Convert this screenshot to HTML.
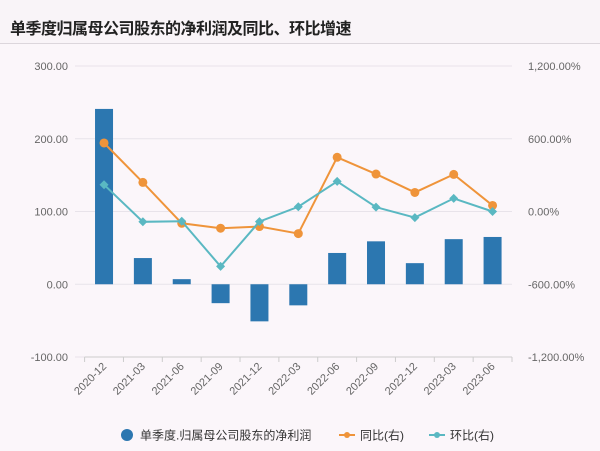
<!DOCTYPE html>
<html><head><meta charset="utf-8"><style>
body{margin:0;background:#fbf6fa;font-family:"Liberation Sans","Noto Sans CJK SC",sans-serif;}
#wrap{position:relative;width:600px;height:451px;overflow:hidden;background:#fbf6fa;}
#hdr{position:absolute;left:0;top:0;width:600px;height:43px;border-bottom:1px solid #dcd6dc;background:#f9f4f8;}
#title{position:absolute;left:10px;top:15px;font-size:16px;font-weight:bold;color:#222;letter-spacing:-0.5px;}
svg text{font-family:"Liberation Sans","Noto Sans CJK SC",sans-serif;}
</style></head><body>
<div id="wrap">
<div id="hdr"><div id="title">单季度归属母公司股东的净利润及同比、环比增速</div></div>
<svg id="chart" width="600" height="451" style="position:absolute;left:0;top:0"></svg>
</div>
<script>
const categories=["2020-12","2021-03","2021-06","2021-09","2021-12","2022-03","2022-06","2022-09","2022-12","2023-03","2023-06"];
const profit=[241,36,7,-26,-51,-29,43,59,29,62,65];
const yoy=[565,240,-97,-138,-124,-182,447,309,157,306,50];
const qoq=[221,-85,-80,-453,-83,39,248,36,-50,108,0];
const leftTicks=[300,200,100,0,-100];
const leftTickLabels=["300.00","200.00","100.00","0.00","-100.00"];
const rightTicks=[1200,600,0,-600,-1200];
const rightTickLabels=["1,200.00%","600.00%","0.00%","-600.00%","-1,200.00%"];
const NS="http://www.w3.org/2000/svg";
const svg=document.getElementById('chart');
const X0=84.6,X1=512,T=66,B=357;
const band=(X1-X0)/categories.length;
const xC=i=>X0+band*(i+0.5);
const yL=v=>T+(300-v)/400*(B-T);
const yR=v=>T+(1200-v)/2400*(B-T);
function mk(tag,at){const e=document.createElementNS(NS,tag);for(const k in at)e.setAttribute(k,at[k]);svg.appendChild(e);return e;}
leftTicks.forEach((v,i)=>{
 const g=mk('line',{x1:75,x2:X1,y1:yL(v),y2:yL(v),stroke:'#e8e3ea','stroke-width':1});
 
 
 const t=mk('text',{x:68,y:yL(v)+4,'text-anchor':'end','font-size':11,fill:'#666'});t.textContent=leftTickLabels[i];
 
 
});
rightTicks.forEach((v,i)=>{
 const t=mk('text',{x:528,y:yR(v)+4,'font-size':11,fill:'#666'});t.textContent=rightTickLabels[i];
 
 
});
const ax=mk('line',{x1:X0,x2:X1,y1:B,y2:B,stroke:'#ccc'});


for(let i=0;i<=categories.length;i++){const tk=mk('line',{x1:X0+band*i,x2:X0+band*i,y1:B,y2:B+5,stroke:'#ccc'});
 
 }
categories.forEach((c,i)=>{
 const x=xC(i)+3,y=B+10;
 const t=mk('text',{x:x,y:y,'text-anchor':'end','font-size':11,fill:'#666',transform:`rotate(-45 ${x} ${y})`});t.textContent=c;
 
 
});
profit.forEach((v,i)=>{
 const y0=yL(0),y1=yL(v);
 const r=mk('rect',{x:xC(i)-9,y:Math.min(y0,y1),width:18,height:Math.abs(y1-y0),fill:'#2c77b0'});
 
 
});
function line(arr,col,name,diamond){
 const p=mk('polyline',{points:arr.map((v,i)=>xC(i)+','+yR(v)).join(' '),fill:'none',stroke:col,'stroke-width':2});
 
 
 arr.forEach((v,i)=>{
  let m;
  if(diamond){const x=xC(i),y=yR(v);m=mk('path',{d:`M${x} ${y-4.5}L${x+4.5} ${y}L${x} ${y+4.5}L${x-4.5} ${y}Z`,fill:col});}
  else m=mk('circle',{cx:xC(i),cy:yR(v),r:4.5,fill:col});
  
  
 });
}
line(yoy,'#ef943a','yoy',false);
line(qoq,'#5ab8c2','qoq',true);
const lg=[[127,'#2c77b0','单季度.归属母公司股东的净利润','c'],[347,'#ef943a','同比(右)','l'],[437,'#5ab8c2','环比(右)','d']];
lg.forEach(([x,col,txt,k])=>{
 if(k==='c'){const c=mk('circle',{cx:x,cy:435,r:6,fill:col});}
 else{const l=mk('line',{x1:x-8,x2:x+8,y1:435,y2:435,stroke:col,'stroke-width':2});
  const c=mk('circle',{cx:x,cy:435,r:3,fill:col});}
 const t=mk('text',{x:x+(k==='c'?13:13),y:439.5,'font-size':12,fill:'#333'});t.textContent=txt;
 
 
});
</script>
</body></html>
